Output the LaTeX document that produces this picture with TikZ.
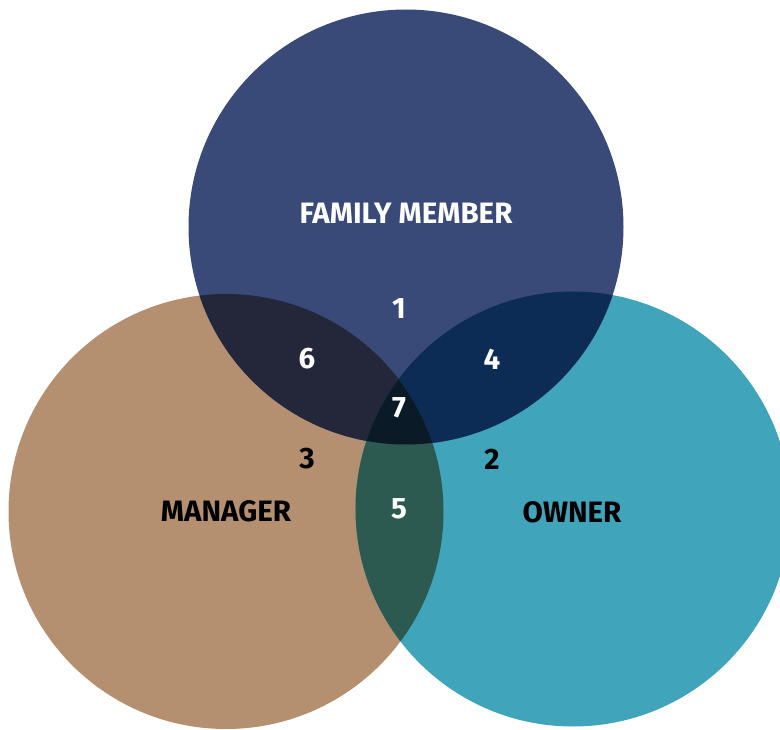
\documentclass[tikz,border=0pt]{standalone}
\usepackage{fontspec}
\setmainfont{Fira Sans}
\begin{document}
\begin{tikzpicture}[x=1pt,y=-1pt,
  lbl/.style={font=\fontsize{29.5}{33}\selectfont\bfseries, inner sep=0pt},
  wlbl/.style={lbl, text=white},
  klbl/.style={lbl, text=black}]
\definecolor{famblue}{HTML}{394A78}
\definecolor{mgrtan}{HTML}{B48F70}
\definecolor{ownteal}{HTML}{40A4BA}
\definecolor{famMgr}{HTML}{24263A}
\definecolor{famOwn}{HTML}{0D2C55}
\definecolor{mgrOwn}{HTML}{2D5A50}
\definecolor{allThree}{HTML}{0A1A27}
\useasboundingbox (0,0) rectangle (780,730);
\clip (0,0) rectangle (780,730);
% the three sets
\def\famC{(406,227) circle (217.5)}
\def\mgrC{(226,511.5) circle (217.5)}
\def\ownC{(573,509) circle (217.5)}
\fill[mgrtan] \mgrC;
\fill[ownteal] \ownC;
\fill[famblue] \famC;
% pairwise overlaps
\begin{scope}\clip \famC; \fill[famMgr] \mgrC; \end{scope}
\begin{scope}\clip \famC; \fill[famOwn] \ownC; \end{scope}
\begin{scope}\clip \mgrC; \fill[mgrOwn] \ownC; \end{scope}
% centre region
\begin{scope}\clip \famC; \clip \mgrC; \fill[allThree] \ownC; \end{scope}
% labels
\node[wlbl] (fam) at (406,213) {FAMILY MEMBER};
\node[klbl] (mgr) at (226,511) {MANAGER};
\node[klbl] (own) at (572,512) {OWNER};
\node[wlbl] (r1) at (399,309) {1};
\node[klbl] (r2) at (492,459) {2};
\node[klbl] (r3) at (307,459) {3};
\node[wlbl] (r4) at (492,359) {4};
\node[wlbl] (r5) at (399,509) {5};
\node[wlbl] (r6) at (307,359) {6};
\node[wlbl] (r7) at (399,408) {7};
\end{tikzpicture}
\end{document}
